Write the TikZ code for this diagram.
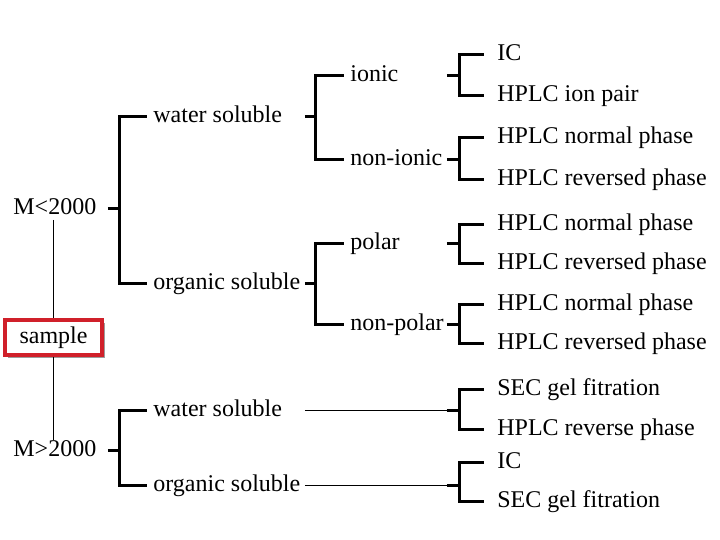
\documentclass[tikz,border=0pt]{standalone}
\usepackage{fontspec}
\setmainfont{Liberation Serif}
\usetikzlibrary{shadows}
\definecolor{ink}{HTML}{000000}
\definecolor{boxred}{HTML}{D0202A}
\definecolor{shade}{HTML}{9C9C9C}

\begin{document}
\begin{tikzpicture}[
    x=0.5pt, y=-0.5pt,
    lab/.style={anchor=west, inner xsep=3pt, inner ysep=0pt,
                text height=8pt, text depth=2.5pt,
                font=\fontsize{12}{14}\selectfont},
    leaf/.style={lab, inner xsep=6.5pt},
    br/.style={line width=1.5pt, color=ink, line join=miter},
    stem/.style={line width=0.5pt, color=ink},
    samplebox/.style={draw=boxred, line width=1.8pt, fill=white,
                      minimum width=48.5pt, minimum height=17.5pt, inner sep=0pt,
                      font=\fontsize{12}{14}\selectfont,
                      drop shadow={shadow xshift=1.5pt, shadow yshift=-1.5pt,
                                   fill=shade, opacity=1}},
  ]
  \useasboundingbox (0,0) rectangle (720,540);

  % columns of the brackets
  \coordinate (c1) at (108,0);
  \coordinate (j1) at (120,0);
  \coordinate (c2) at (305,0);
  \coordinate (j2) at (316,0);
  \coordinate (c3) at (447,0);
  \coordinate (j3) at (460,0);

  % root
  \node[samplebox] (sample) at (53.5,337.5) {sample};
  \node[lab] (msmall) at (7,209) {M<2000};
  \node[lab] (mlarge) at (7,451) {M>2000};

  % second level
  \node[lab] (wsA) at (147,117) {water soluble};
  \node[lab] (osA) at (147,284) {organic soluble};
  \node[lab] (wsB) at (147,411) {water soluble};
  \node[lab] (osB) at (147,486) {organic soluble};

  % third level
  \node[lab] (ionic) at (344,76) {ionic};
  \node[lab] (nonionic) at (344,160) {non-ionic};
  \node[lab] (polar) at (344,244) {polar};
  \node[lab] (nonpolar) at (344,325) {non-polar};

  % methods
  \node[leaf] (icA) at (484,55) {IC};
  \node[leaf] (ionpair) at (484,96) {HPLC ion pair};
  \node[leaf] (normA) at (484,138) {HPLC normal phase};
  \node[leaf] (revA) at (484,180) {HPLC reversed phase};
  \node[leaf] (normB) at (484,225) {HPLC normal phase};
  \node[leaf] (revB) at (484,264) {HPLC reversed phase};
  \node[leaf] (normC) at (484,305) {HPLC normal phase};
  \node[leaf] (revC) at (484,344) {HPLC reversed phase};
  \node[leaf] (secA) at (484,390) {SEC gel fitration};
  \node[leaf] (revD) at (484,430) {HPLC reverse phase};
  \node[leaf] (icB) at (484,463) {IC};
  \node[leaf] (secB) at (484,502) {SEC gel fitration};

  % stem through the sample box
  \draw[stem] (msmall.south -| sample.north) -- (sample.north);
  \draw[stem] (sample.south) -- (mlarge.north -| sample.south);

  % M<2000
  \draw[br] (msmall.east -| c1) -- (msmall.east -| j1);
  \draw[br] (wsA.west) -| (osA.west -| j1) -- (osA.west);
  % M>2000
  \draw[br] (mlarge.east -| c1) -- (mlarge.east -| j1);
  \draw[br] (wsB.west) -| (osB.west -| j1) -- (osB.west);

  % water soluble
  \draw[br] (wsA.east -| c2) -- (wsA.east -| j2);
  \draw[br] (ionic.west) -| (nonionic.west -| j2) -- (nonionic.west);
  % organic soluble
  \draw[br] (osA.east -| c2) -- (osA.east -| j2);
  \draw[br] (polar.west) -| (nonpolar.west -| j2) -- (nonpolar.west);

  % ionic / non-ionic
  \draw[br] (ionic.east -| c3) -- (ionic.east -| j3);
  \draw[br] (icA.west) -| (ionpair.west -| j3) -- (ionpair.west);
  \draw[br] (nonionic.east -| c3) -- (nonionic.east -| j3);
  \draw[br] (normA.west) -| (revA.west -| j3) -- (revA.west);

  % polar / non-polar
  \draw[br] (polar.east -| c3) -- (polar.east -| j3);
  \draw[br] (normB.west) -| (revB.west -| j3) -- (revB.west);
  \draw[br] (nonpolar.east -| c3) -- (nonpolar.east -| j3);
  \draw[br] (normC.west) -| (revC.west -| j3) -- (revC.west);

  % M>2000 branches
  \draw[stem] (wsB.east -| c2) -- (wsB.east -| c3);
  \draw[br] (wsB.east -| c3) -- (wsB.east -| j3);
  \draw[br] (secA.west) -| (revD.west -| j3) -- (revD.west);
  \draw[stem] (osB.east -| c2) -- (osB.east -| c3);
  \draw[br] (osB.east -| c3) -- (osB.east -| j3);
  \draw[br] (icB.west) -| (secB.west -| j3) -- (secB.west);
\end{tikzpicture}
\end{document}
